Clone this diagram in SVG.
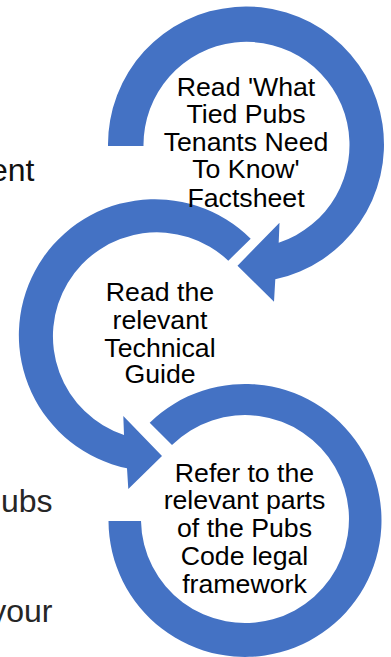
<svg xmlns="http://www.w3.org/2000/svg" width="391" height="657" viewBox="0 0 391 657">
<style>
.arc{fill:#4472c4;stroke:none}
.n{font-family:"Liberation Sans",Arial,sans-serif;font-size:26.7px;fill:#000;text-anchor:middle}
.s{font-family:"Liberation Sans",Arial,sans-serif;font-size:32px;text-anchor:end}
</style>
<rect width="391" height="657" fill="#fff"/>
<g id="page-text">
<text class="s" x="34.5" y="181" fill="#111">ent</text>
<text class="s" x="52.5" y="512" fill="#262626">ubs</text>
<text class="s" x="52.5" y="622" fill="#262626">your</text>
</g>
<g id="connectors">
<path class="arc" d="M108 146A138 138 0 1 1 275.3 279.3L274 301.7L237.5 265.7L279.5 222.7L278.7 242.7A103 103 0 1 0 143.5 146Z"/>
<path class="arc" d="M250.7 238.7A136 136 0 1 0 127 468.3L128.3 489L162 456L123.3 416L124 435A104 104 0 1 1 228.3 260.7Z"/>
<path class="arc" d="M149.7 422.7A136.5 136.5 0 1 1 108.5 521L141 521A104 104 0 1 0 172 445Z"/>
</g>
<g id="node-1">
<text class="n" x="246" y="95.7">Read 'What</text>
<text class="n" x="246" y="123.3">Tied Pubs</text>
<text class="n" x="246" y="150.7">Tenants Need</text>
<text class="n" x="246" y="178.3">To Know'</text>
<text class="n" x="246" y="206.7">Factsheet</text>
</g>
<g id="node-2">
<text class="n" x="160" y="301">Read the</text>
<text class="n" x="160" y="329">relevant</text>
<text class="n" x="160" y="356.7">Technical</text>
<text class="n" x="160" y="383.3">Guide</text>
</g>
<g id="node-3">
<text class="n" x="244.5" y="481.7">Refer to the</text>
<text class="n" x="244.5" y="509.3">relevant parts</text>
<text class="n" x="244.5" y="537.3">of the Pubs</text>
<text class="n" x="244.5" y="565">Code legal</text>
<text class="n" x="244.5" y="592.7">framework</text>
</g>
</svg>
